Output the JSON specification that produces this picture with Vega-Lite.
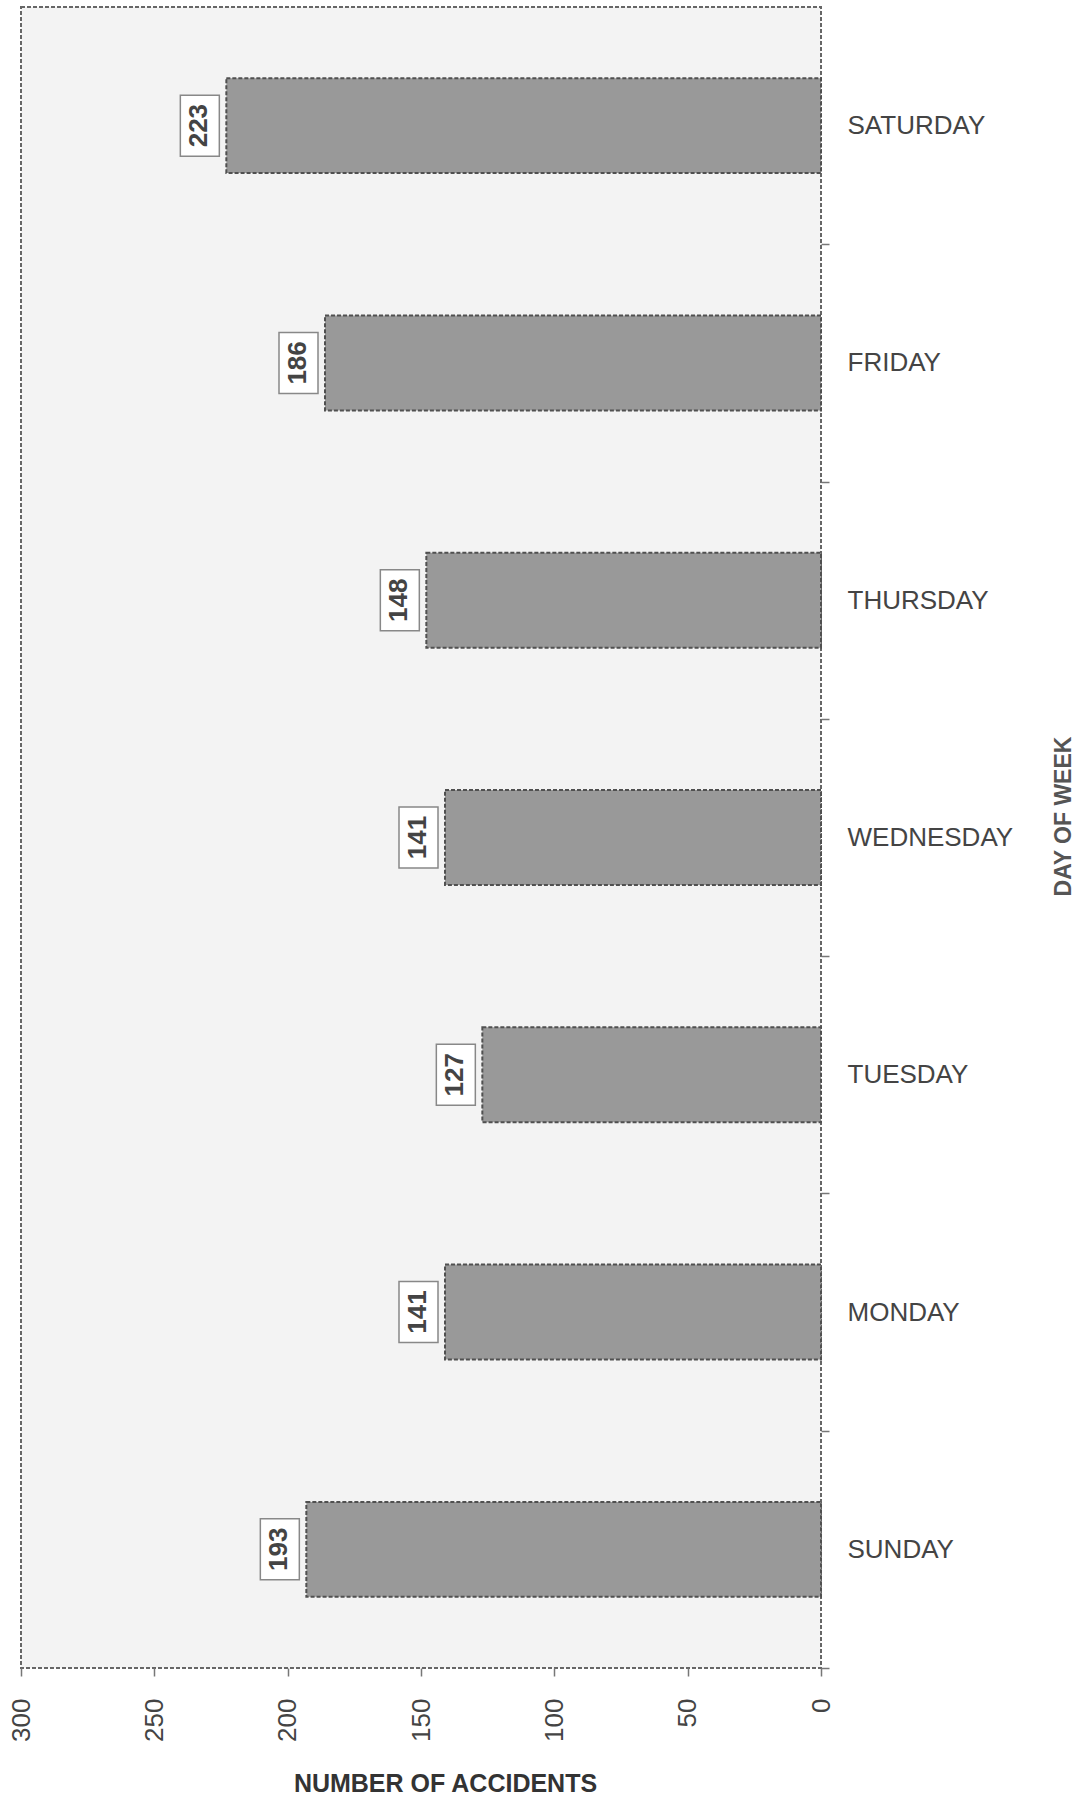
{
  "$schema": "https://vega.github.io/schema/vega-lite/v6.json",
  "autosize": {"type": "none"},
  "padding": {"left": 21, "top": 7, "right": 266, "bottom": 133},
  "width": 800,
  "height": 1661,
  "background": "white",
  "config": {
    "font": "Liberation Sans",
    "view": {"fill": "#f3f3f3", "stroke": "#666666", "strokeWidth": 2, "strokeDash": [4, 2]}
  },
  "data": {
    "values": [
      {"day": "SATURDAY", "accidents": 223},
      {"day": "FRIDAY", "accidents": 186},
      {"day": "THURSDAY", "accidents": 148},
      {"day": "WEDNESDAY", "accidents": 141},
      {"day": "TUESDAY", "accidents": 127},
      {"day": "MONDAY", "accidents": 141},
      {"day": "SUNDAY", "accidents": 193}
    ]
  },
  "encoding": {
    "y": {
      "field": "day",
      "type": "nominal",
      "sort": null,
      "scale": {
        "domain": ["SATURDAY", "FRIDAY", "THURSDAY", "WEDNESDAY", "TUESDAY", "MONDAY", "SUNDAY"],
        "paddingInner": 0.6,
        "paddingOuter": 0.3
      },
      "axis": {
        "orient": "right",
        "title": "DAY OF WEEK",
        "domain": false,
        "tickOffset": 118.65,
        "labelOffset": -118.65,
        "tickSize": 8,
        "tickColor": "#777777",
        "tickWidth": 1.5,
        "labelPadding": 18,
        "labelFontSize": 26,
        "labelColor": "#444444",
        "labelFont": "Liberation Sans",
        "titleFont": "Liberation Sans",
        "titleFontSize": 23,
        "titleFontWeight": "bold",
        "titleColor": "#555555",
        "titleAngle": 270,
        "titleAlign": "center",
        "titleBaseline": "middle",
        "titleX": 242,
        "titleY": 809
      }
    }
  },
  "layer": [
    {
      "mark": {"type": "bar", "fill": "#999999", "stroke": "#505050", "strokeWidth": 2, "strokeDash": [4, 2]},
      "encoding": {
        "x": {
          "field": "accidents",
          "type": "quantitative",
          "scale": {"domain": [0, 300], "reverse": true, "nice": false},
          "axis": {
            "values": [0, 50, 100, 150, 200, 250, 300],
            "title": "NUMBER OF ACCIDENTS",
            "grid": false,
            "domain": false,
            "tickSize": 8,
            "tickColor": "#777777",
            "tickWidth": 1.5,
            "labelAngle": 270,
            "labelAlign": "right",
            "labelBaseline": "middle",
            "labelPadding": 22,
            "labelFontSize": 26,
            "labelColor": "#444444",
            "labelFont": "Liberation Sans",
            "titleFont": "Liberation Sans",
            "titleFontSize": 25,
            "titleFontWeight": "bold",
            "titleColor": "#333333",
            "titleAlign": "center",
            "titleBaseline": "top",
            "titleX": 424,
            "titleY": 103
          }
        }
      }
    },
    {
      "mark": {"type": "bar", "fill": "white", "stroke": "#888888", "strokeWidth": 1.5, "height": 61, "xOffset": -46, "x2Offset": -7},
      "encoding": {
        "x": {"field": "accidents", "type": "quantitative"},
        "x2": {"field": "accidents"}
      }
    },
    {
      "mark": {"type": "text", "angle": 270, "align": "center", "baseline": "middle", "xOffset": -27, "fontSize": 26, "fontWeight": "bold", "color": "#444444", "font": "Liberation Sans"},
      "encoding": {
        "x": {"field": "accidents", "type": "quantitative"},
        "text": {"field": "accidents", "type": "quantitative"}
      }
    }
  ]
}
